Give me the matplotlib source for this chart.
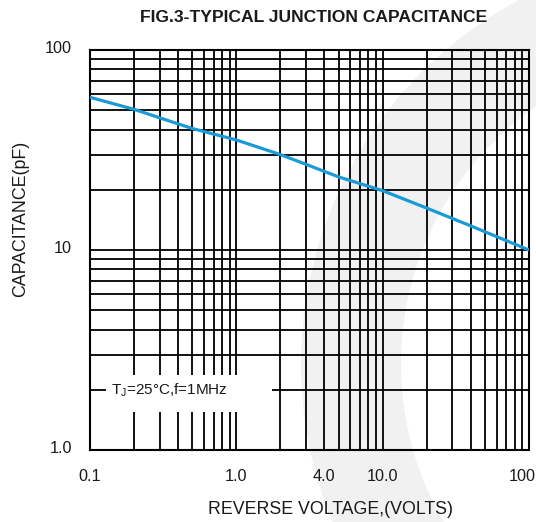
import matplotlib
matplotlib.use('Agg')
import matplotlib.pyplot as plt
import matplotlib.transforms as mtransforms
from matplotlib.patches import Wedge, Rectangle
from matplotlib.ticker import LogLocator, FixedLocator, NullFormatter

# values
volts = [0.1, 0.2, 0.5, 1.0, 2.0, 3.0, 5.0, 10.0, 20.0, 40.0, 100.0]
cap_pf = [58.0, 50.5, 40.5, 35.5, 30.0, 26.8, 23.2, 19.8, 16.2, 13.2, 10.0]

xticks = [0.1, 1.0, 4.0, 10.0, 100.0]
xtick_labels = ['0.1', '1.0', '4.0', '10.0', '100']
yticks = [1.0, 10.0, 100.0]
ytick_labels = ['1.0', '10', '100']

title = 'FIG.3-TYPICAL JUNCTION CAPACITANCE'
xlabel = 'REVERSE VOLTAGE,(VOLTS)'
ylabel = 'CAPACITANCE(pF)'
note = 'T$_{\\mathregular{J}}$=25°C,f=1MHz'

plt.rcParams['font.family'] = ['Liberation Sans', 'DejaVu Sans']
plt.rcParams['mathtext.fontset'] = 'custom'
plt.rcParams['mathtext.rm'] = 'Liberation Sans'
txt = '#1a1a1a'

fig = plt.figure(figsize=(5.36, 5.22), dpi=100)

# light grey watermark arc behind the plot
wm = Wedge((7.14, 1.58), 4.13, 90, 270, width=1.0,
           transform=fig.dpi_scale_trans, facecolor='#f1f1f1', edgecolor='none',
           zorder=-5)
fig.add_artist(wm)

ax = fig.add_axes([90/536, 72/522, 439/536, 400/522])
ax.set_zorder(1)
ax.set_facecolor('none')
ax.set_xscale('log')
ax.set_yscale('log')
ax.set_xlim(0.1, 100)
ax.set_ylim(1, 100)

ax.xaxis.set_major_locator(FixedLocator(xticks))
ax.set_xticklabels(xtick_labels)
ax.yaxis.set_major_locator(FixedLocator(yticks))
ax.set_yticklabels(ytick_labels)
ax.xaxis.set_minor_locator(LogLocator(base=10, subs=range(1, 10), numticks=20))
ax.yaxis.set_minor_locator(LogLocator(base=10, subs=range(1, 10), numticks=20))
ax.xaxis.set_minor_formatter(NullFormatter())
ax.yaxis.set_minor_formatter(NullFormatter())
ax.tick_params(which='both', length=0, labelsize=11.7, colors=txt)
ax.tick_params(axis='x', pad=14)
ax.tick_params(axis='y', pad=13)

ax.grid(True, which='both', color='black', linewidth=1.3)
for s in ax.spines.values():
    s.set_linewidth(1.5)
    s.set_color('black')

# y tick labels sit a little above their grid lines
up = mtransforms.ScaledTranslation(0, 3/100, fig.dpi_scale_trans)
for lab in ax.get_yticklabels():
    lab.set_transform(lab.get_transform() + up)
# last x label is pushed in from the right edge
left = mtransforms.ScaledTranslation(-7/100, 0, fig.dpi_scale_trans)
xl = ax.get_xticklabels()[-1]
xl.set_transform(xl.get_transform() + left)

ax.plot(volts, cap_pf, color='#1a9ad6', linewidth=2.3, zorder=4, solid_capstyle='butt')

# condition note in a white box over the grid
ax.add_patch(Rectangle((0.036, 0.096), 0.378, 0.092, transform=ax.transAxes,
                       facecolor='white', edgecolor='none', zorder=3))
ax.text(0.047, 0.1505, note, transform=ax.transAxes, fontsize=11, color=txt,
        va='center', ha='left', zorder=5)

ax.set_xlabel(xlabel, fontsize=12.8, color=txt)
ax.xaxis.set_label_coords(0.547, -0.1475)
ax.xaxis.label.set_va('center')
ax.set_ylabel(ylabel, fontsize=12.8, color=txt)
ax.yaxis.set_label_coords(-0.159, 0.579)
ax.yaxis.label.set_va('center')
ax.text(0.51, 1.081, title, transform=ax.transAxes, fontsize=12.6, fontweight='bold',
        color=txt, ha='center', va='center')

fig.savefig('out.png', dpi=100)
